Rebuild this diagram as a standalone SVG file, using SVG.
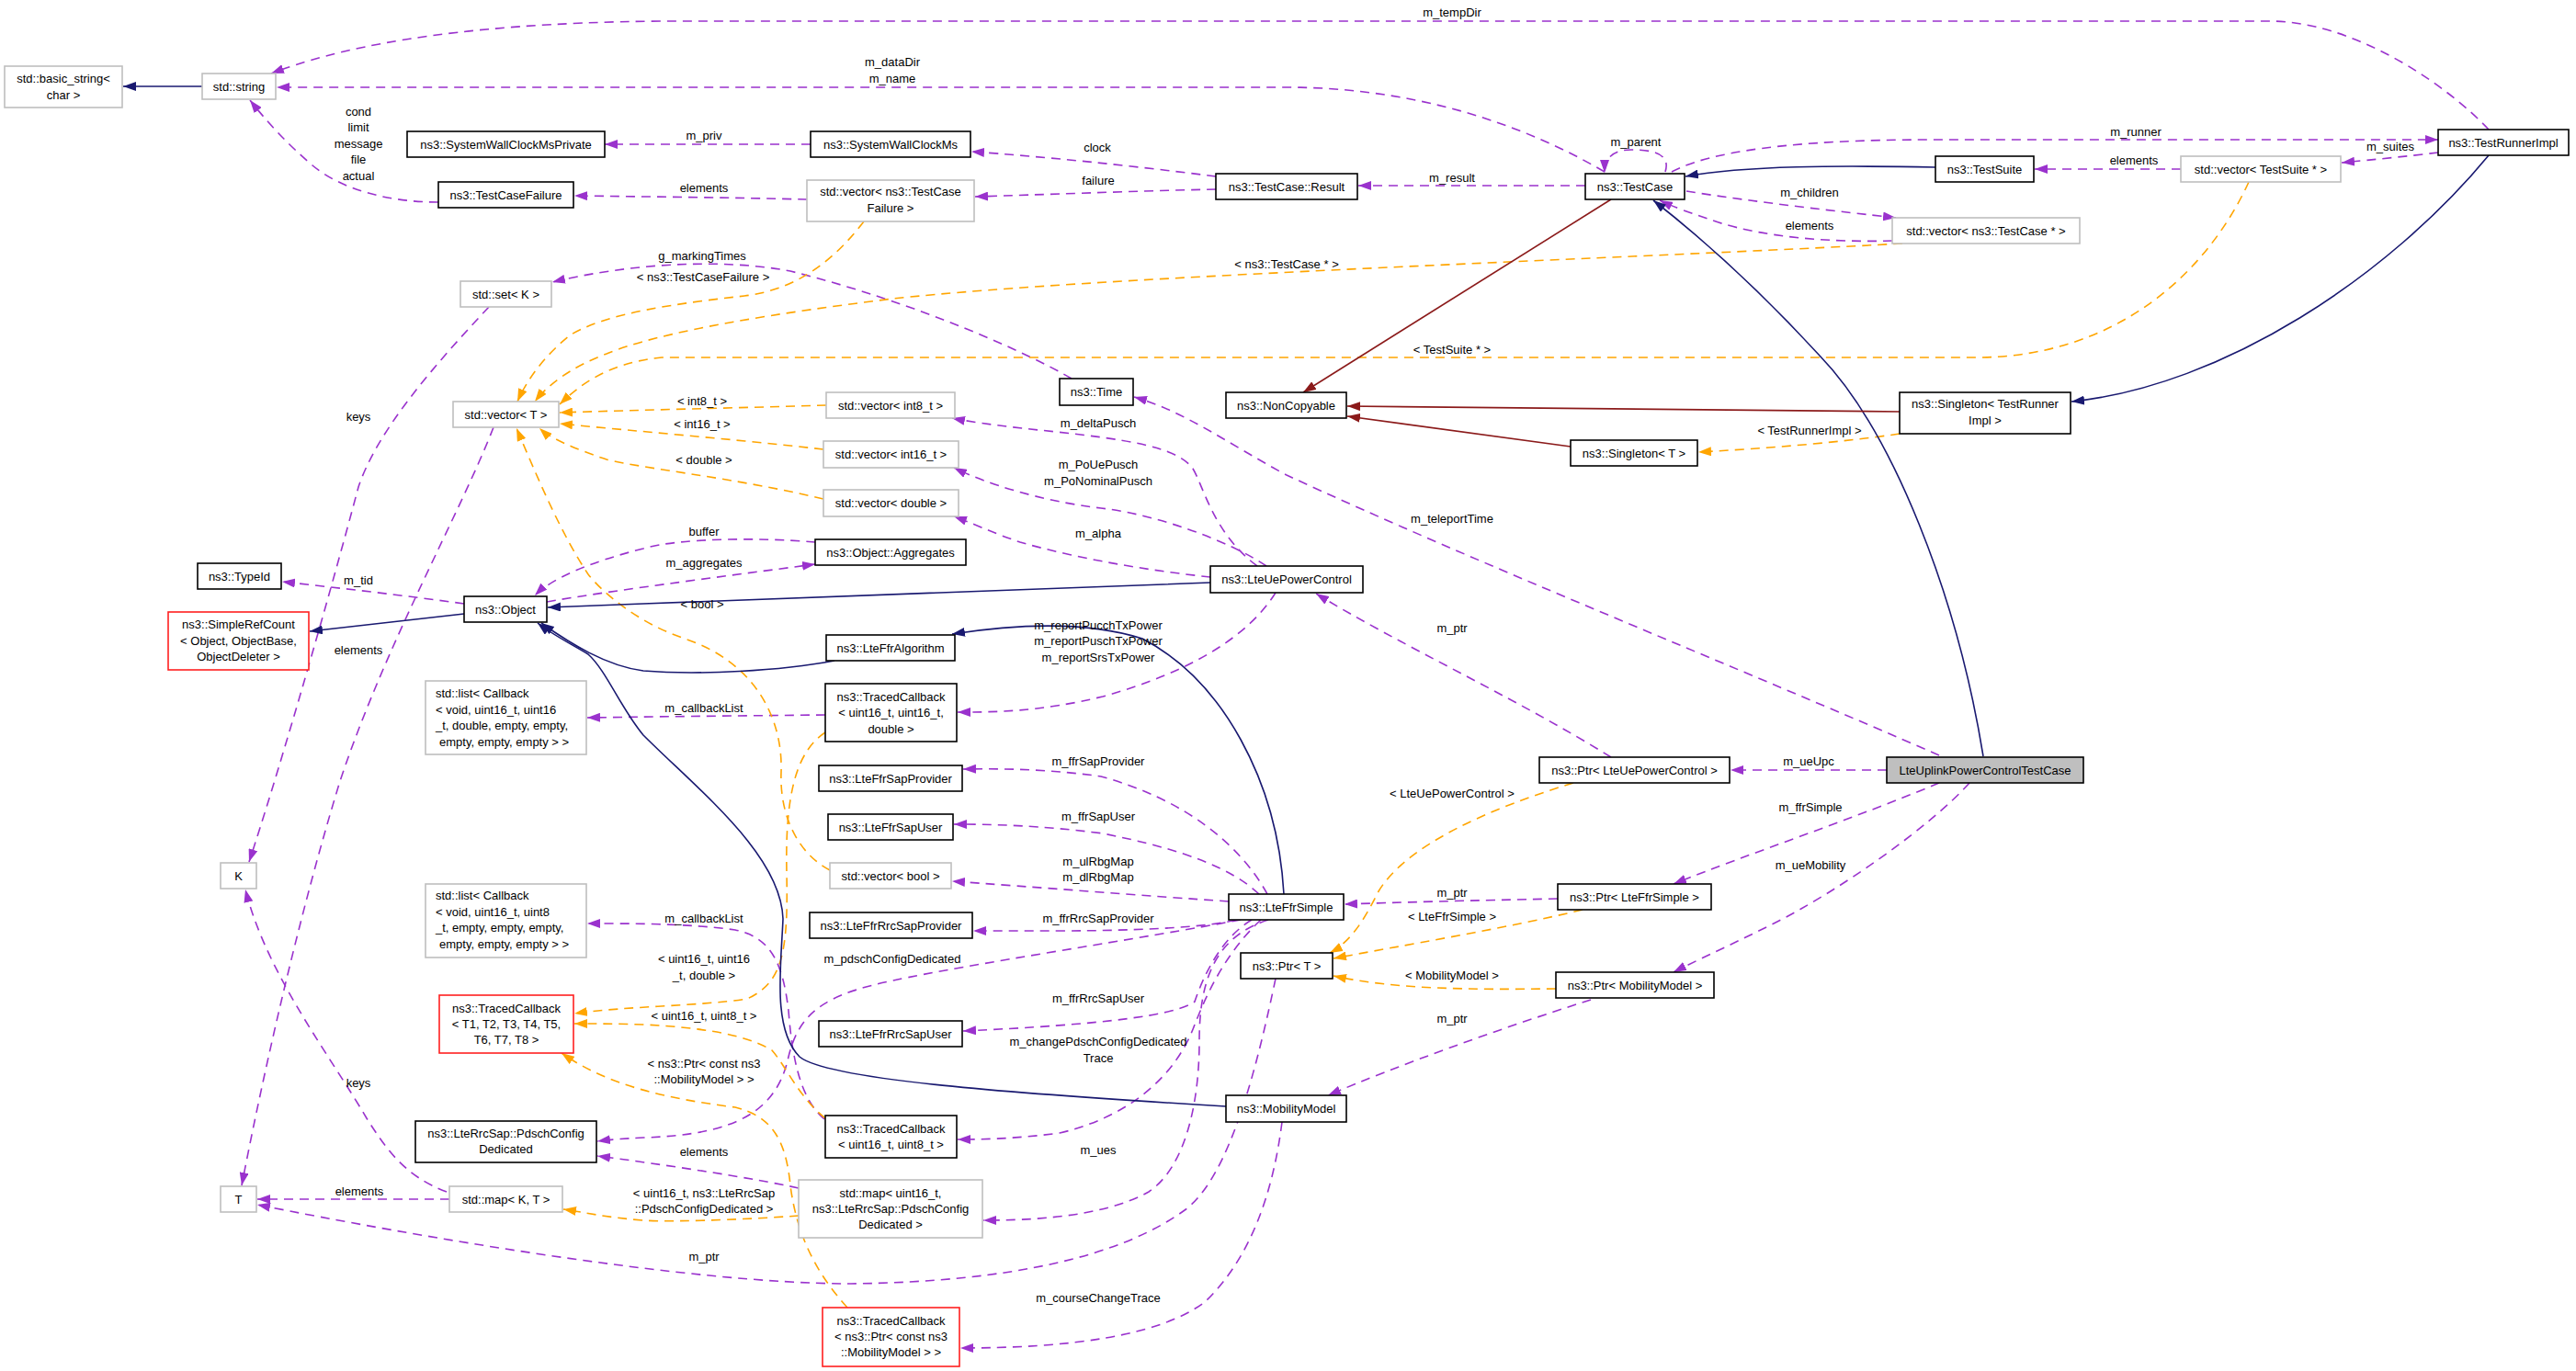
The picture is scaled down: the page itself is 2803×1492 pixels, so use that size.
<svg xmlns="http://www.w3.org/2000/svg" width="2803" height="1492" viewBox="0 0 2803 1492">
<defs>
<style>
text{font-family:"Liberation Sans",Arial,Helvetica,sans-serif;font-size:13px;fill:#000;stroke:none}
.node text{text-anchor:middle}
.node rect{fill:#fff;stroke:#000;stroke-width:1.6}
.node.gray rect{stroke:#bfbfbf}
.node.red rect{stroke:#ff2020}
.node.main rect{fill:#bfbfbf}
.e path{fill:none;stroke-width:1.6}
path.p{stroke:#9a32cd;stroke-dasharray:10,7;marker-end:url(#ap)}
path.o{stroke:#ffa500;stroke-dasharray:10,7;marker-end:url(#ao)}
path.n{stroke:#191970;marker-end:url(#an)}
path.r{stroke:#8b1a1a;marker-end:url(#ar)}
.lbl text{text-anchor:middle}
</style>
<marker id="ap" viewBox="0 0 14 10" refX="14" refY="5" markerWidth="14" markerHeight="10" markerUnits="userSpaceOnUse" orient="auto"><path d="M0,0 L14,5 L0,10 z" fill="#9a32cd" stroke="none"/></marker>
<marker id="ao" viewBox="0 0 14 10" refX="14" refY="5" markerWidth="14" markerHeight="10" markerUnits="userSpaceOnUse" orient="auto"><path d="M0,0 L14,5 L0,10 z" fill="#ffa500" stroke="none"/></marker>
<marker id="an" viewBox="0 0 14 10" refX="14" refY="5" markerWidth="14" markerHeight="10" markerUnits="userSpaceOnUse" orient="auto"><path d="M0,0 L14,5 L0,10 z" fill="#191970" stroke="none"/></marker>
<marker id="ar" viewBox="0 0 14 10" refX="14" refY="5" markerWidth="14" markerHeight="10" markerUnits="userSpaceOnUse" orient="auto"><path d="M0,0 L14,5 L0,10 z" fill="#8b1a1a" stroke="none"/></marker>
</defs>
<rect width="2803" height="1492" fill="#fff"/>

<g id="edges" class="e">
<!-- purple -->
<path class="p" d="M2708,141 C2660,90 2560,23 2470,23 L720,23 C480,25 360,55 295,80"/>
<path class="p" d="M1746,187 C1640,125 1520,95 1400,95 L301,95"/>
<path class="p" d="M882,157 L658,157"/>
<path class="p" d="M477,220 C420,220 370,205 340,180 C312,156 290,132 272,109"/>
<path class="p" d="M1323,192 C1230,180 1130,170 1057,165"/>
<path class="p" d="M1323,206 C1230,208 1130,212 1061,214"/>
<path class="p" d="M878,217 C800,215 700,214 625,213"/>
<path class="p" d="M1725,202 L1478,202"/>
<path class="p" d="M1812,187 C1818,168 1800,163 1775,163 C1755,163 1746,172 1746,188"/>
<path class="p" d="M1819,187 C1860,165 1950,152 2100,152 L2653,152"/>
<path class="p" d="M2653,166 C2620,170 2580,174 2548,177"/>
<path class="p" d="M2373,184 L2214,184"/>
<path class="p" d="M1835,208 C1910,220 2000,230 2063,237"/>
<path class="p" d="M2059,262 C1990,264 1920,258 1870,242 C1840,232 1820,225 1806,218"/>
<path class="p" d="M1166,412 C1120,385 1000,330 860,295 C780,280 680,288 601,307"/>
<path class="p" d="M532,334 C470,400 410,470 390,530 C350,680 300,850 271,938"/>
<path class="p" d="M537,465 C500,560 420,700 370,850 C330,980 290,1150 263,1290"/>
<path class="p" d="M486,1297 C440,1280 420,1250 399,1217 C360,1150 290,1060 267,968"/>
<path class="p" d="M489,1305 L280,1305"/>
<path class="p" d="M1388,1065 C1370,1150 1340,1280 1289,1317 C1220,1367 1100,1395 926,1397 C750,1397 450,1345 280,1311"/>
<path class="p" d="M505,657 C440,648 370,640 307,633"/>
<path class="p" d="M887,590 C830,585 740,585 700,597 C640,612 600,630 582,648"/>
<path class="p" d="M595,655 C650,645 780,628 887,614"/>
<path class="p" d="M1368,616 C1320,580 1310,530 1298,510 C1280,485 1220,478 1150,470 C1100,465 1060,460 1036,455"/>
<path class="p" d="M1378,616 C1340,590 1260,560 1198,553 C1130,545 1070,525 1038,509"/>
<path class="p" d="M1317,628 C1260,622 1180,610 1110,590 C1080,580 1060,570 1038,562"/>
<path class="p" d="M1388,645 C1360,690 1300,730 1200,758 C1130,775 1080,775 1042,775"/>
<path class="p" d="M898,778 C800,779 700,780 639,781"/>
<path class="p" d="M1753,824 C1650,760 1520,700 1432,646"/>
<path class="p" d="M2110,822 C1900,730 1600,610 1400,517 C1340,485 1290,448 1234,432"/>
<path class="p" d="M2053,838 L1883,838"/>
<path class="p" d="M2110,852 C2020,890 1900,930 1821,962"/>
<path class="p" d="M2143,852 C2100,900 2000,970 1930,1005 C1880,1030 1840,1048 1821,1058"/>
<path class="p" d="M1695,978 C1600,980 1520,982 1463,984"/>
<path class="p" d="M1731,1088 C1630,1120 1520,1160 1445,1192"/>
<path class="p" d="M1379,973 C1350,920 1290,870 1198,845 C1150,838 1100,836 1048,837"/>
<path class="p" d="M1370,973 C1340,945 1290,925 1200,907 C1130,898 1080,897 1038,897"/>
<path class="p" d="M1337,981 C1250,975 1120,965 1036,959"/>
<path class="p" d="M1345,1001 C1320,1008 1250,1013 1150,1013 L1059,1013"/>
<path class="p" d="M1350,1001 C1250,1020 1050,1050 972,1067 C900,1082 870,1100 858,1150 C845,1210 800,1235 700,1238 C680,1239 665,1240 650,1242"/>
<path class="p" d="M1362,1001 C1330,1020 1310,1060 1300,1090 C1280,1105 1200,1115 1048,1122"/>
<path class="p" d="M1372,1001 C1330,1040 1310,1090 1300,1115 C1280,1170 1230,1215 1153,1233 C1100,1240 1060,1240 1042,1240"/>
<path class="p" d="M1380,1001 C1320,1020 1305,1070 1305,1133 C1305,1200 1290,1270 1250,1297 C1200,1325 1120,1328 1070,1328"/>
<path class="p" d="M1395,1221 C1385,1300 1360,1370 1311,1417 C1260,1455 1160,1467 1045,1467"/>
<path class="p" d="M897,1218 C870,1195 862,1150 858,1100 C852,1050 840,1020 800,1012 C750,1005 690,1005 639,1005"/>
<path class="p" d="M869,1293 C820,1282 720,1267 650,1258"/>
<!-- orange -->
<path class="o" d="M940,241 C910,280 870,315 810,322 C740,330 660,340 620,365 C595,385 575,410 563,437"/>
<path class="o" d="M2070,265 C1800,280 1200,300 972,325 C850,340 720,360 660,385 C620,400 595,420 582,437"/>
<path class="o" d="M2447,198 C2400,300 2300,389 2150,389 L720,389 C660,395 630,420 609,440"/>
<path class="o" d="M899,441 C800,444 700,446 609,449"/>
<path class="o" d="M896,489 C800,478 700,470 609,461"/>
<path class="o" d="M896,543 C800,520 700,510 660,500 C630,490 600,478 587,466"/>
<path class="o" d="M903,947 C870,930 848,890 850,840 C852,780 820,720 745,695 C700,680 660,650 640,625 C610,580 585,520 562,466"/>
<path class="o" d="M898,797 C868,817 854,860 856,950 C858,1040 850,1070 813,1087 C760,1095 680,1095 625,1103"/>
<path class="o" d="M898,1217 C870,1195 855,1160 840,1143 C810,1125 760,1118 700,1115 C670,1114 650,1114 625,1114"/>
<path class="o" d="M922,1423 C895,1393 868,1353 860,1290 C855,1240 840,1215 800,1205 C720,1195 660,1180 611,1146"/>
<path class="o" d="M869,1323 C800,1328 720,1330 700,1328 C660,1325 640,1320 613,1316"/>
<path class="o" d="M2067,472 C2000,482 1920,488 1848,492"/>
<path class="o" d="M1712,852 C1620,880 1530,920 1500,970 C1485,1000 1470,1025 1447,1037"/>
<path class="o" d="M1722,990 C1640,1010 1520,1030 1451,1043"/>
<path class="o" d="M1693,1076 C1600,1077 1520,1077 1451,1062"/>
<!-- navy -->
<path class="n" d="M220,94 L134,94"/>
<path class="n" d="M505,668 L337,687"/>
<path class="n" d="M1317,634 L700,657 L596,661"/>
<path class="n" d="M908,719 C850,730 760,735 700,730 C660,725 620,700 589,678"/>
<path class="n" d="M1397,973 C1390,850 1330,740 1243,695 C1180,675 1100,680 1036,690"/>
<path class="n" d="M1334,1204 C1100,1190 900,1175 870,1150 C840,1120 850,1050 852,1000 C850,930 760,860 700,800 C675,770 660,730 640,712 C620,700 600,690 585,678"/>
<path class="n" d="M2106,182 C2000,180 1900,180 1834,192"/>
<path class="n" d="M2708,169 C2600,300 2420,420 2254,437"/>
<path class="n" d="M2158,823 C2130,650 2060,470 1980,387 C1900,300 1840,250 1799,218"/>
<!-- red -->
<path class="r" d="M1753,217 L1418,427"/>
<path class="r" d="M2067,448 L1466,442"/>
<path class="r" d="M1709,486 L1466,453"/>
</g>

<g id="labels" class="lbl">
<text x="1580" y="18">m_tempDir</text>
<text x="971" y="72">m_dataDir</text>
<text x="971" y="90">m_name</text>
<text x="766" y="152">m_priv</text>
<text x="390" y="126">cond</text>
<text x="390" y="143">limit</text>
<text x="390" y="161">message</text>
<text x="390" y="178">file</text>
<text x="390" y="196">actual</text>
<text x="1194" y="165">clock</text>
<text x="1195" y="201">failure</text>
<text x="766" y="209">elements</text>
<text x="1580" y="198">m_result</text>
<text x="1780" y="159">m_parent</text>
<text x="2324" y="148">m_runner</text>
<text x="2601" y="164">m_suites</text>
<text x="2322" y="179">elements</text>
<text x="1969" y="214">m_children</text>
<text x="1969" y="250">elements</text>
<text x="764" y="283">g_markingTimes</text>
<text x="765" y="306">&lt; ns3::TestCaseFailure &gt;</text>
<text x="1400" y="292">&lt; ns3::TestCase * &gt;</text>
<text x="1580" y="385">&lt; TestSuite * &gt;</text>
<text x="390" y="458">keys</text>
<text x="764" y="441">&lt; int8_t &gt;</text>
<text x="764" y="466">&lt; int16_t &gt;</text>
<text x="766" y="505">&lt; double &gt;</text>
<text x="1195" y="465">m_deltaPusch</text>
<text x="1195" y="510">m_PoUePusch</text>
<text x="1195" y="528">m_PoNominalPusch</text>
<text x="1969" y="473">&lt; TestRunnerImpl &gt;</text>
<text x="1580" y="569">m_teleportTime</text>
<text x="766" y="583">buffer</text>
<text x="1195" y="585">m_alpha</text>
<text x="766" y="617">m_aggregates</text>
<text x="390" y="636">m_tid</text>
<text x="764" y="662">&lt; bool &gt;</text>
<text x="1580" y="688">m_ptr</text>
<text x="1195" y="685">m_reportPucchTxPower</text>
<text x="1195" y="702">m_reportPuschTxPower</text>
<text x="1195" y="720">m_reportSrsTxPower</text>
<text x="390" y="712">elements</text>
<text x="766" y="775">m_callbackList</text>
<text x="1195" y="833">m_ffrSapProvider</text>
<text x="1968" y="833">m_ueUpc</text>
<text x="1580" y="868">&lt; LteUePowerControl &gt;</text>
<text x="1970" y="883">m_ffrSimple</text>
<text x="1195" y="893">m_ffrSapUser</text>
<text x="1195" y="942">m_ulRbgMap</text>
<text x="1195" y="959">m_dlRbgMap</text>
<text x="1970" y="946">m_ueMobility</text>
<text x="1580" y="976">m_ptr</text>
<text x="1580" y="1002">&lt; LteFfrSimple &gt;</text>
<text x="1195" y="1004">m_ffrRrcSapProvider</text>
<text x="766" y="1004">m_callbackList</text>
<text x="971" y="1048">m_pdschConfigDedicated</text>
<text x="766" y="1048">&lt; uint16_t, uint16</text>
<text x="766" y="1066">_t, double &gt;</text>
<text x="1580" y="1066">&lt; MobilityModel &gt;</text>
<text x="1195" y="1091">m_ffrRrcSapUser</text>
<text x="766" y="1110">&lt; uint16_t, uint8_t &gt;</text>
<text x="1580" y="1113">m_ptr</text>
<text x="1195" y="1138">m_changePdschConfigDedicated</text>
<text x="1195" y="1156">Trace</text>
<text x="766" y="1162">&lt; ns3::Ptr&lt; const ns3</text>
<text x="766" y="1179">::MobilityModel &gt; &gt;</text>
<text x="390" y="1183">keys</text>
<text x="1195" y="1256">m_ues</text>
<text x="766" y="1258">elements</text>
<text x="391" y="1301">elements</text>
<text x="766" y="1303">&lt; uint16_t, ns3::LteRrcSap</text>
<text x="766" y="1320">::PdschConfigDedicated &gt;</text>
<text x="766" y="1372">m_ptr</text>
<text x="1195" y="1417">m_courseChangeTrace</text>
</g>

<g id="n_basic_string" class="node gray"><rect x="5" y="72" width="128" height="45"/><text x="69" y="89.5">std::basic_string&lt;</text><text x="69" y="107.5">char &gt;</text></g>
<g id="n_string" class="node gray"><rect x="220" y="80" width="80" height="28"/><text x="260" y="98.5">std::string</text></g>
<g id="n_swcmp" class="node"><rect x="443" y="143" width="215" height="28"/><text x="550.5" y="161.5">ns3::SystemWallClockMsPrivate</text></g>
<g id="n_tcf" class="node"><rect x="477" y="198" width="147" height="28"/><text x="550.5" y="216.5">ns3::TestCaseFailure</text></g>
<g id="n_swcm" class="node"><rect x="882" y="143" width="174" height="28"/><text x="969" y="161.5">ns3::SystemWallClockMs</text></g>
<g id="n_vec_tcf" class="node gray"><rect x="878" y="196" width="182" height="45"/><text x="969" y="212.5">std::vector&lt; ns3::TestCase</text><text x="969" y="230.5">Failure &gt;</text></g>
<g id="n_result" class="node"><rect x="1323" y="189" width="154" height="28"/><text x="1400" y="207.5">ns3::TestCase::Result</text></g>
<g id="n_testcase" class="node"><rect x="1725" y="189" width="108" height="28"/><text x="1779" y="207.5">ns3::TestCase</text></g>
<g id="n_testsuite" class="node"><rect x="2106" y="170" width="107" height="28"/><text x="2159.5" y="188.5">ns3::TestSuite</text></g>
<g id="n_vec_ts" class="node gray"><rect x="2373" y="170" width="174" height="28"/><text x="2460" y="188.5">std::vector&lt; TestSuite * &gt;</text></g>
<g id="n_tri" class="node"><rect x="2653" y="141" width="142" height="28"/><text x="2724" y="159.5">ns3::TestRunnerImpl</text></g>
<g id="n_vec_tc" class="node gray"><rect x="2059" y="237" width="204" height="28"/><text x="2161" y="255.5">std::vector&lt; ns3::TestCase * &gt;</text></g>
<g id="n_setK" class="node gray"><rect x="501" y="306" width="99" height="28"/><text x="550.5" y="324.5">std::set&lt; K &gt;</text></g>
<g id="n_vecT" class="node gray"><rect x="493" y="437" width="115" height="28"/><text x="550.5" y="455.5">std::vector&lt; T &gt;</text></g>
<g id="n_vec_i8" class="node gray"><rect x="899" y="427" width="140" height="28"/><text x="969" y="445.5">std::vector&lt; int8_t &gt;</text></g>
<g id="n_vec_i16" class="node gray"><rect x="896" y="480" width="147" height="29"/><text x="969.5" y="498.5">std::vector&lt; int16_t &gt;</text></g>
<g id="n_vec_d" class="node gray"><rect x="896" y="533" width="147" height="29"/><text x="969.5" y="551.5">std::vector&lt; double &gt;</text></g>
<g id="n_time" class="node"><rect x="1153" y="412" width="80" height="29"/><text x="1193" y="430.5">ns3::Time</text></g>
<g id="n_noncopy" class="node"><rect x="1334" y="427" width="131" height="28"/><text x="1399.5" y="445.5">ns3::NonCopyable</text></g>
<g id="n_singleton_tri" class="node"><rect x="2067" y="427" width="186" height="45"/><text x="2160" y="443.5">ns3::Singleton&lt; TestRunner</text><text x="2160" y="461.5">Impl &gt;</text></g>
<g id="n_singleton_t" class="node"><rect x="1709" y="479" width="138" height="28"/><text x="1778" y="497.5">ns3::Singleton&lt; T &gt;</text></g>
<g id="n_aggregates" class="node"><rect x="887" y="587" width="164" height="28"/><text x="969" y="605.5">ns3::Object::Aggregates</text></g>
<g id="n_typeid" class="node"><rect x="215" y="613" width="91" height="28"/><text x="260.5" y="631.5">ns3::TypeId</text></g>
<g id="n_object" class="node"><rect x="505" y="649" width="90" height="28"/><text x="550" y="667.5">ns3::Object</text></g>
<g id="n_simplerefcount" class="node red"><rect x="183" y="666" width="153" height="63"/><text x="259.5" y="683.5">ns3::SimpleRefCount</text><text x="259.5" y="701.5">&lt; Object, ObjectBase,</text><text x="259.5" y="718.5">ObjectDeleter &gt;</text></g>
<g id="n_uepc" class="node"><rect x="1317" y="616" width="166" height="29"/><text x="1400" y="635">ns3::LteUePowerControl</text></g>
<g id="n_ffralg" class="node"><rect x="899" y="691" width="140" height="28"/><text x="969" y="709.5">ns3::LteFfrAlgorithm</text></g>
<g id="n_tc_u16u16d" class="node"><rect x="898" y="744" width="143" height="63"/><text x="969.5" y="762.5">ns3::TracedCallback</text><text x="969.5" y="779.5">&lt; uint16_t, uint16_t,</text><text x="969.5" y="797.5">double &gt;</text></g>
<g id="n_list1" class="node gray"><rect x="463" y="741" width="175" height="80"/><text x="474" y="758.5" style="text-anchor:start">std::list&lt; Callback</text><text x="474" y="776.5" style="text-anchor:start">&lt; void, uint16_t, uint16</text><text x="474" y="793.5" style="text-anchor:start">_t, double, empty, empty,</text><text x="478" y="811.5" style="text-anchor:start">empty, empty, empty &gt; &gt;</text></g>
<g id="n_ffrsapprov" class="node"><rect x="891" y="833" width="156" height="28"/><text x="969" y="851.5">ns3::LteFfrSapProvider</text></g>
<g id="n_ffrsapuser" class="node"><rect x="901" y="886" width="136" height="28"/><text x="969" y="904.5">ns3::LteFfrSapUser</text></g>
<g id="n_vec_bool" class="node gray"><rect x="903" y="939" width="132" height="28"/><text x="969" y="957.5">std::vector&lt; bool &gt;</text></g>
<g id="n_ffrrrcsapprov" class="node"><rect x="881" y="993" width="177" height="28"/><text x="969.5" y="1011.5">ns3::LteFfrRrcSapProvider</text></g>
<g id="n_ffrsimple" class="node"><rect x="1337" y="973" width="125" height="28"/><text x="1399.5" y="991.5">ns3::LteFfrSimple</text></g>
<g id="n_ptr_uepc" class="node"><rect x="1675" y="824" width="207" height="28"/><text x="1778.5" y="842.5">ns3::Ptr&lt; LteUePowerControl &gt;</text></g>
<g id="n_main" class="node main"><rect x="2053" y="824" width="214" height="28"/><text x="2160" y="842.5">LteUplinkPowerControlTestCase</text></g>
<g id="n_ptr_ffrsimple" class="node"><rect x="1695" y="962" width="167" height="28"/><text x="1778.5" y="980.5">ns3::Ptr&lt; LteFfrSimple &gt;</text></g>
<g id="n_ptr_t" class="node"><rect x="1350" y="1037" width="100" height="28"/><text x="1400" y="1055.5">ns3::Ptr&lt; T &gt;</text></g>
<g id="n_ptr_mm" class="node"><rect x="1693" y="1058" width="172" height="28"/><text x="1779" y="1076.5">ns3::Ptr&lt; MobilityModel &gt;</text></g>
<g id="n_mobility" class="node"><rect x="1334" y="1192" width="131" height="29"/><text x="1399.5" y="1211">ns3::MobilityModel</text></g>
<g id="n_list2" class="node gray"><rect x="463" y="962" width="175" height="80"/><text x="474" y="978.5" style="text-anchor:start">std::list&lt; Callback</text><text x="474" y="996.5" style="text-anchor:start">&lt; void, uint16_t, uint8</text><text x="474" y="1013.5" style="text-anchor:start">_t, empty, empty, empty,</text><text x="478" y="1031.5" style="text-anchor:start">empty, empty, empty &gt; &gt;</text></g>
<g id="n_K" class="node gray"><rect x="240" y="939" width="39" height="28"/><text x="259.5" y="957.5">K</text></g>
<g id="n_tc_t" class="node red"><rect x="478" y="1083" width="146" height="63"/><text x="551" y="1101.5">ns3::TracedCallback</text><text x="551" y="1118.5">&lt; T1, T2, T3, T4, T5,</text><text x="551" y="1135.5">T6, T7, T8 &gt;</text></g>
<g id="n_ffrrrcsapuser" class="node"><rect x="891" y="1111" width="156" height="28"/><text x="969" y="1129.5">ns3::LteFfrRrcSapUser</text></g>
<g id="n_tc_u16u8" class="node"><rect x="898" y="1214" width="143" height="46"/><text x="969.5" y="1232.5">ns3::TracedCallback</text><text x="969.5" y="1249.5">&lt; uint16_t, uint8_t &gt;</text></g>
<g id="n_pdsch" class="node"><rect x="452" y="1220" width="197" height="45"/><text x="550.5" y="1237.5">ns3::LteRrcSap::PdschConfig</text><text x="550.5" y="1254.5">Dedicated</text></g>
<g id="n_T" class="node gray"><rect x="240" y="1291" width="39" height="28"/><text x="259.5" y="1309.5">T</text></g>
<g id="n_mapKT" class="node gray"><rect x="489" y="1291" width="123" height="28"/><text x="550.5" y="1309.5">std::map&lt; K, T &gt;</text></g>
<g id="n_map_u16" class="node gray"><rect x="869" y="1284" width="200" height="63"/><text x="969" y="1302.5">std::map&lt; uint16_t,</text><text x="969" y="1319.5">ns3::LteRrcSap::PdschConfig</text><text x="969" y="1336.5">Dedicated &gt;</text></g>
<g id="n_tc_ptrmm" class="node red"><rect x="895" y="1423" width="149" height="64"/><text x="969.5" y="1441.5">ns3::TracedCallback</text><text x="969.5" y="1458.5">&lt; ns3::Ptr&lt; const ns3</text><text x="969.5" y="1475.5">::MobilityModel &gt; &gt;</text></g>
</svg>
